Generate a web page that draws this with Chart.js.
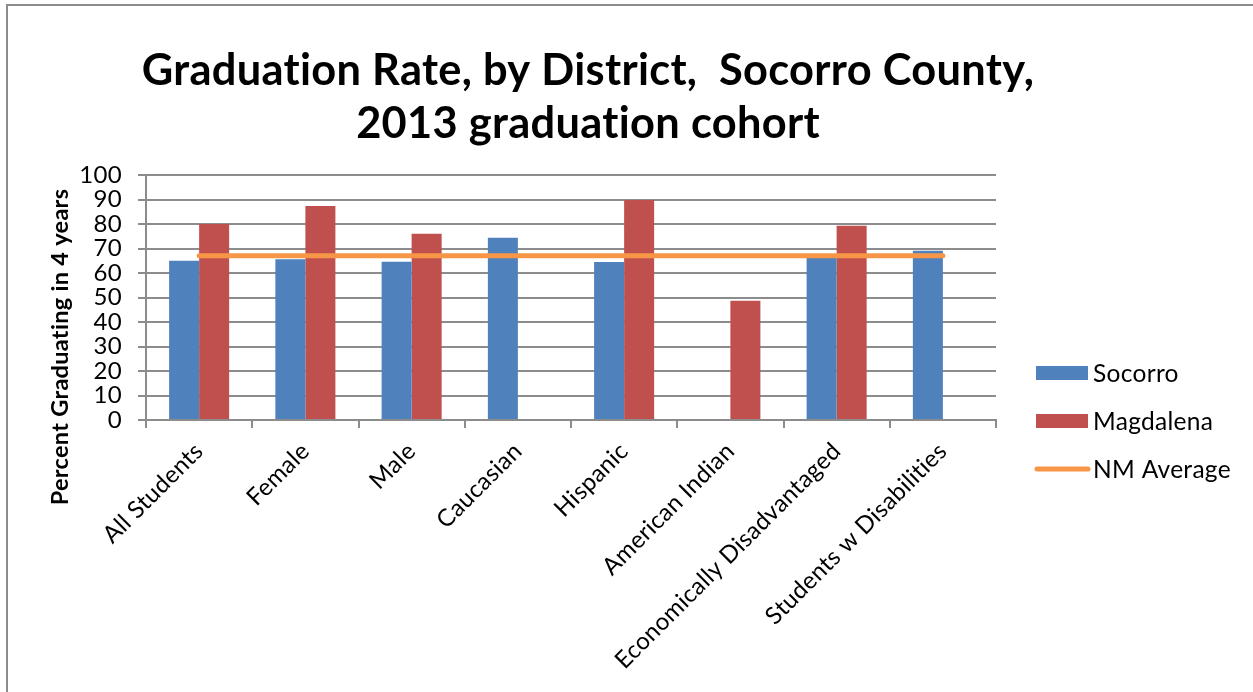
<!DOCTYPE html>
<html><head><meta charset="utf-8">
<script src="https://cdn.jsdelivr.net/npm/chart.js@4.4.0/dist/chart.umd.min.js"></script>
<style>html,body{margin:0;padding:0;background:#fff;overflow:hidden;} canvas{display:block;}</style>
</head><body>
<canvas id="c" width="1253" height="692"></canvas>
<script>
const categories = ["All Students","Female","Male","Caucasian","Hispanic","American Indian","Economically Disadvantaged","Students w Disabilities"];
const socorro   = [65, 65.6, 64.6, 74.4, 64.5, null, 67.5, 69.1];
const magdalena = [80, 87.3, 76, null, 89.8, 48.7, 79.3, null];
const nmAverage = [67, 67, 67, 67, 67, 67, 67, 67];
const seriesNames = ["Socorro", "Magdalena", "NM Average"];
const titleLines = ["Graduation Rate, by District,  Socorro County,", "2013 graduation cohort"];
const yAxisTitle = "Percent Graduating in 4 years";

const FONT = "Lato, 'Open Sans', sans-serif";
const GRID = "#8c8c8c";

const noLig = {
  id: 'noLig',
  beforeInit(chart) { try { chart.ctx.letterSpacing = '0.3px'; } catch (e) {} },
  beforeDraw(chart) { try { chart.ctx.letterSpacing = '0.3px'; } catch (e) {} }
};

const decor = {
  id: 'decor',
  afterDraw(chart) {
    const ctx = chart.ctx;
    ctx.save();
    // outer border
    ctx.strokeStyle = '#8c8c8c';
    ctx.lineWidth = 2;
    ctx.beginPath();
    ctx.moveTo(7, 692); ctx.lineTo(7, 5); ctx.lineTo(1253, 5);
    ctx.stroke();
    // title
    ctx.fillStyle = '#000';
    ctx.textAlign = 'center';
    ctx.textBaseline = 'alphabetic';
    ctx.font = "bold 40px " + FONT;
    const w = ctx.measureText(titleLines[0]).width;
    const size = 40 * 894 / w;
    ctx.font = "bold " + size.toFixed(1) + "px " + FONT;
    ctx.fillText(titleLines[0], 588, 85);
    ctx.fillText(titleLines[1], 588, 138);
    // y axis title
    ctx.save();
    ctx.translate(60, 347);
    ctx.rotate(-Math.PI / 2);
    ctx.font = "bold 23.5px " + FONT;
    ctx.textBaseline = 'middle';
    ctx.fillText(yAxisTitle, 0, 0);
    ctx.restore();
    // legend
    const ys = [373, 421, 469];
    ctx.textAlign = 'left';
    ctx.textBaseline = 'middle';
    ctx.font = "24.5px " + FONT;
    chart.data.datasets.forEach((ds, i) => {
      const y = ys[i];
      if (ds.type === 'line') {
        ctx.strokeStyle = ds.borderColor;
        ctx.lineWidth = 5;
        ctx.lineCap = 'round';
        ctx.beginPath(); ctx.moveTo(1037, y); ctx.lineTo(1088, y); ctx.stroke();
      } else {
        ctx.fillStyle = ds.backgroundColor;
        ctx.fillRect(1036, y - 7, 52, 14);
      }
      ctx.fillStyle = '#000';
      ctx.fillText(ds.label, 1093, y + 1);
    });
    ctx.restore();
  }
};

new Chart(document.getElementById('c'), {
  type: 'bar',
  data: {
    labels: categories,
    datasets: [
      { label: seriesNames[0], data: socorro, backgroundColor: '#4F81BD', order: 2,
        barPercentage: 1, categoryPercentage: 0.565 },
      { label: seriesNames[1], data: magdalena, backgroundColor: '#C0504D', order: 2,
        barPercentage: 1, categoryPercentage: 0.565 },
      { label: seriesNames[2], data: nmAverage, type: 'line', borderColor: '#F79646',
        backgroundColor: '#F79646', borderWidth: 5, pointRadius: 0, borderCapStyle: 'round',
        fill: false, order: 0 }
    ]
  },
  options: {
    responsive: false,
    animation: false,
    devicePixelRatio: 1,
    layout: { padding: { left: 0, top: 175, right: 257, bottom: 0 } },
    plugins: { legend: { display: false }, title: { display: false }, tooltip: { enabled: false } },
    scales: {
      x: {
        offset: true,
        grid: { display: true, drawOnChartArea: false, drawTicks: true, tickLength: 8, offset: true, color: GRID, lineWidth: 2 },
        border: { display: true, color: GRID, width: 2 },
        ticks: { maxRotation: 45, minRotation: 45, autoSkip: false, padding: 9, color: '#000', font: { family: FONT, size: 24 } },
        afterFit(scale) { scale.height = 692 - 420; }
      },
      y: {
        min: 0, max: 100,
        grid: { color: GRID, lineWidth: 2, tickLength: 8 },
        border: { display: true, color: GRID, width: 2 },
        ticks: { stepSize: 10, autoSkip: false, padding: 16, color: '#000', font: { family: FONT, size: 24 } },
        afterFit(scale) { scale.width = 146; }
      }
    }
  },
  plugins: [noLig, decor]
});
</script>
</body></html>
